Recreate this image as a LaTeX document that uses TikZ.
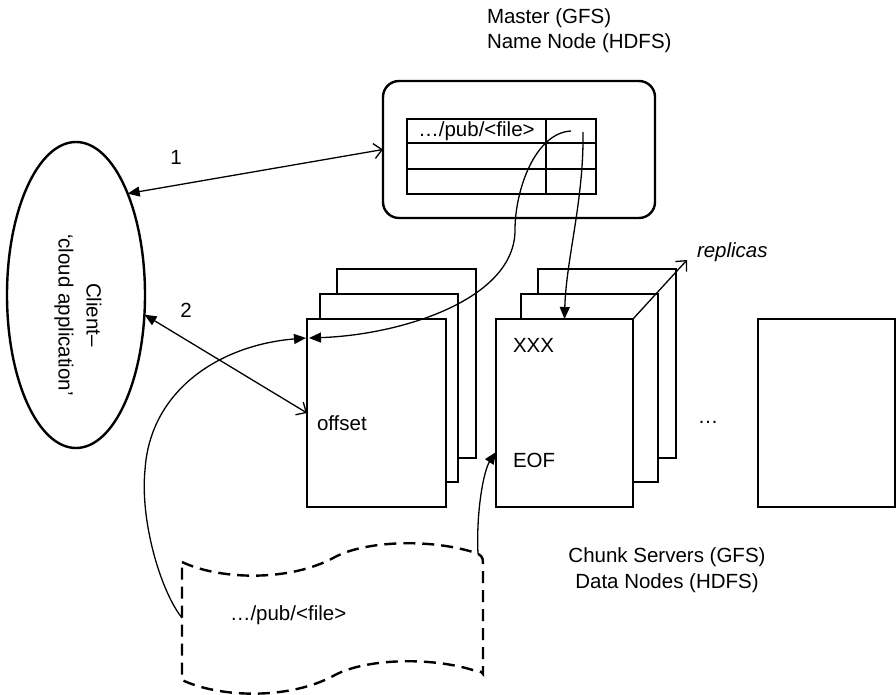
\documentclass[tikz,border=0pt]{standalone}
\usepackage{fontspec}
\setmainfont{Liberation Sans}
\usetikzlibrary{arrows.meta,shapes.geometric,calc}
\begin{document}
\begin{tikzpicture}[x=1pt,y=-1pt,
  every node/.style={font=\fontsize{20.5}{25.5}\selectfont, inner sep=0pt, outer sep=0pt},
  thickline/.style={line width=2.4pt},
  chunkbox/.style={draw, thickline, fill=white, minimum width=139pt, minimum height=189pt, anchor=north west},
  cell/.style={draw, thickline, anchor=north west},
  conn/.style={line width=1.3pt},
  fa/.tip={Triangle[length=12pt,width=10pt]},
  oa/.tip={Straight Barb[length=8pt,width=15pt]},
  tapeline/.style={line width=2.4pt, dash pattern=on 12pt off 7pt}
]
\useasboundingbox (0,0) rectangle (896,695);

% labels top
\node[anchor=west, align=left] (mlabel) at (487,30.5) {Master (GFS)\\Name Node (HDFS)};

% master
\node[draw, thickline, rounded corners=16pt, minimum width=272pt, minimum height=137pt] (master) at (519,149.5) {};
\node[cell, minimum width=139pt, minimum height=24pt] (t11) at (407,119) {…/pub/<file>};
\node[cell, minimum width=50pt, minimum height=24pt] (t12) at (546,119) {};
\node[cell, minimum width=139pt, minimum height=26pt] (t21) at (407,143) {};
\node[cell, minimum width=50pt, minimum height=26pt] (t22) at (546,143) {};
\node[cell, minimum width=139pt, minimum height=25pt] (t31) at (407,169) {};
\node[cell, minimum width=50pt, minimum height=25pt] (t32) at (546,169) {};

% client
\node[draw, thickline, ellipse, minimum width=138pt, minimum height=306pt] (client) at (76,295) {};
\node[rotate=-90, align=center, font=\fontsize{20.5}{28}\selectfont] (clienttext) at (78,315) {Client–\\‘cloud application’};

% left stack
\node[chunkbox, minimum height=189pt] (lb) at (337,269) {};
\node[chunkbox, minimum width=138pt, minimum height=188pt] (lm) at (320,294) {};
\node[chunkbox, minimum height=188pt] (lf) at (307,319) {};
% right stack
\node[chunkbox, minimum width=138pt, minimum height=189pt] (rb) at (538,269) {};
\node[chunkbox, minimum width=137pt, minimum height=188pt] (rm) at (521,294) {};
\node[chunkbox, minimum width=137pt, minimum height=188pt] (rf) at (496,319) {};
% lone box
\node[chunkbox, minimum width=137pt, minimum height=188pt] (lone) at (758,319) {};

\node[anchor=west] (offset) at (317,423) {offset};
\node[anchor=west] (xxx) at (513,345) {XXX};
\node[anchor=west] (eof) at (513,460) {EOF};
\node (dots) at (708,422) {…};
\node[anchor=west, font=\fontsize{20.5}{25.5}\selectfont\itshape] (replicas) at (697,252) {replicas};

\node[align=center] (cslabel) at (667,570) {Chunk Servers (GFS)\\Data Nodes (HDFS)};

% tape (file)
\draw[tapeline] (182,562) .. controls (220,580) and (290,582) .. (335,557)
  .. controls (365,541) and (430,538) .. (476,553)
  .. controls (481,555) and (483,557) .. (483,563) -- (483,674)
  .. controls (481,671) and (479,671) .. (476,671)
  .. controls (430,656) and (365,659) .. (335,675)
  .. controls (290,700) and (220,698) .. (182,680) -- cycle;
\node[anchor=west] (tapetext) at (230,615) {…/pub/<file>};
\coordinate (tapeL) at (182,618);
\coordinate (tapeTR) at (478,554);
\coordinate (lfin) at (307,338);
\coordinate (rfin) at (496,452);
\coordinate (repl) at (687,260);

% connectors
\draw[conn, fa-oa] (client.63) -- (master.west);
\node (n1) at (176,157) {1};
\draw[conn, fa-oa] (client.-16) -- (lf.west);
\node (n2) at (186,310) {2};

\draw[conn, -fa] ($(t12.center)+(12,1)$) .. controls (584,200) and (566,260) .. (rf.north);
\draw[conn, -fa] (t12.center) .. controls (535,133) and (515,190) .. (515,230)
  .. controls (515,300) and (400,335) .. ($(lfin)+(2,0)$);
\draw[conn, -fa] (tapeL) .. controls (160,590) and (140,520) .. (145,470)
  .. controls (150,390) and (220,345) .. ($(lfin)+(-1,0)$);
\draw[conn, -fa] (tapeTR) .. controls (476,510) and (484,470) .. (rfin);
\draw[conn, -oa] (rf.north east) -- (repl);
\end{tikzpicture}
\end{document}
